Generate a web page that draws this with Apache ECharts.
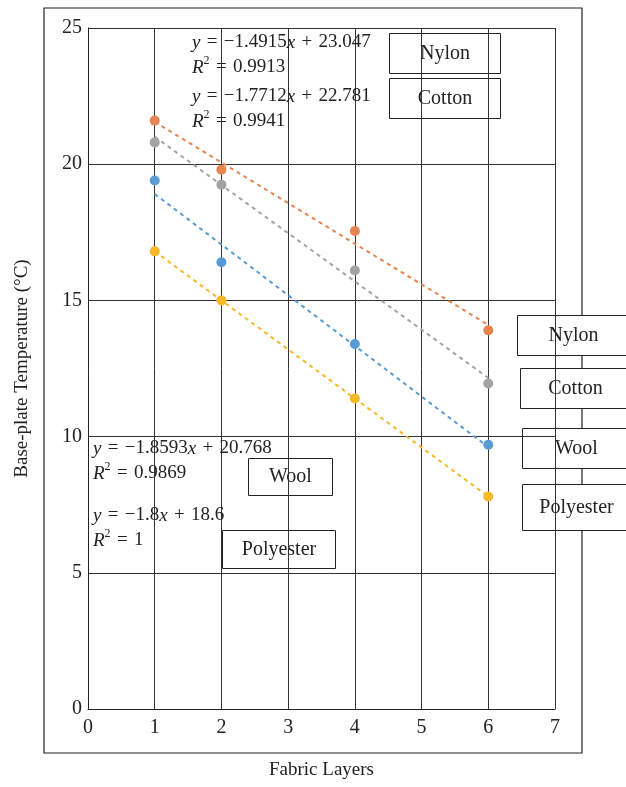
<!DOCTYPE html>
<html><head><meta charset="utf-8">
<script src="https://cdn.jsdelivr.net/npm/echarts@6/dist/echarts.min.js"></script>
<style>html,body{margin:0;padding:0;background:#fff}#c{width:626px;height:787px}</style>
</head><body><div id="c"></div>
<script>
const layers = [1, 2, 4, 6];
const fabrics = ['Nylon', 'Cotton', 'Wool', 'Polyester'];
const nylon = [21.6, 19.8, 17.55, 13.9];
const cotton = [20.8, 19.25, 16.1, 11.95];
const wool = [19.4, 16.4, 13.4, 9.7];
const polyester = [16.8, 15.0, 11.4, 7.8];
const slopes = [-1.4915, -1.7712, -1.8593, -1.8];
const intercepts = [23.047, 22.781, 20.768, 18.6];
const r2 = ['0.9913', '0.9941', '0.9869', '1'];
const colors = ['#E8844F', '#A3A3A3', '#5B9BD5', '#F9B827'];
const xTicks = [0, 1, 2, 3, 4, 5, 6, 7];
const yTicks = [0, 5, 10, 15, 20, 25];

const values = [nylon, cotton, wool, polyester];
const FONT = '"Liberation Serif", "DejaVu Serif", serif';
const chart = echarts.init(document.getElementById('c'));

const series = [];
fabrics.forEach((f, i) => {
  const x0 = layers[0], x1 = layers[layers.length - 1];
  series.push({
    type: 'line', name: f + ' trend', silent: true, symbol: 'none', z: 2,
    lineStyle: { color: colors[i], width: 2, type: [4, 4] },
    data: [[x0, slopes[i] * x0 + intercepts[i]], [x1, slopes[i] * x1 + intercepts[i]]]
  });
  series.push({
    type: 'scatter', name: f, symbolSize: 10, z: 3,
    itemStyle: { color: colors[i], opacity: 1 },
    data: layers.map((x, k) => [x, values[i][k]])
  });
});

const SP = '\u2004';
function eqText(i) {
  const s = Math.abs(slopes[i]);
  return '{i|y}' + SP + '=' + SP + '\u2212' + s + '{i|x}' + SP + '+' + SP + intercepts[i] +
         '\n{i|R}{s|2}' + SP + '=' + SP + r2[i];
}
function eq(i, x, y) {
  return { type: 'text', left: x, top: y, z: 10,
    style: { text: eqText(i), font: '19px ' + FONT, fill: '#222', lineHeight: 25,
      rich: { i: { fontStyle: 'italic', fontSize: 19, fontFamily: FONT, lineHeight: 25 },
              s: { fontSize: 12, fontFamily: FONT, verticalAlign: 'top', lineHeight: 25, padding: [0,0,8,0] } } } };
}
function box(label, x, y, w, h) {
  return { type: 'group', left: x, top: y, z: 10, children: [
    { type: 'rect', shape: { x: 0, y: 0, width: w, height: h },
      style: { fill: '#fff', stroke: '#222', lineWidth: 1 } },
    { type: 'text', x: w / 2, y: h / 2,
      style: { text: label, font: '20px ' + FONT, fill: '#222', align: 'center', verticalAlign: 'middle' } }
  ]};
}

chart.setOption({
  animation: false,
  backgroundColor: '#fff',
  grid: { left: 88, right: 71, top: 28, bottom: 78, outerBoundsMode: 'none', containLabel: false },
  xAxis: {
    type: 'value', min: 0, max: 7, interval: 1,
    name: 'Fabric Layers', nameLocation: 'middle', nameGap: 52,
    nameTextStyle: { fontFamily: FONT, fontSize: 19, color: '#222' },
    axisLine: { show: true, lineStyle: { color: '#222' } },
    axisTick: { show: false },
    axisLabel: { fontFamily: FONT, fontSize: 20, color: '#222', margin: 9 },
    splitLine: { show: true, lineStyle: { color: '#333', width: 1 } }
  },
  yAxis: {
    type: 'value', min: 0, max: 25, interval: 5,
    name: 'Base-plate Temperature (\u00B0C)', nameLocation: 'middle', nameGap: 56, nameRotate: 90,
    nameTextStyle: { fontFamily: FONT, fontSize: 19, color: '#222' },
    axisLine: { show: true, lineStyle: { color: '#222' } },
    axisTick: { show: false },
    axisLabel: { fontFamily: FONT, fontSize: 20, color: '#222', margin: 6 },
    splitLine: { show: true, lineStyle: { color: '#333', width: 1 } }
  },
  graphic: [
    { type: 'rect', x: 44, y: 8, z: 0, silent: true,
      shape: { x: 0, y: 0, width: 538, height: 745 }, style: { fill: 'none', stroke: '#222', lineWidth: 1.2 } },
    eq(0, 192, 30), eq(1, 192, 84), eq(2, 93, 436), eq(3, 93, 503),
    box('Nylon', 389, 33, 111, 40), box('Cotton', 389, 78, 111, 40),
    box('Wool', 248, 458, 84, 37), box('Polyester', 222, 530, 113, 38),
    box('Nylon', 517, 315, 112, 40), box('Cotton', 520, 368, 110, 40),
    box('Wool', 522, 428, 108, 40), box('Polyester', 522, 484, 108, 46)
  ],
  series: series
});
</script></body></html>
